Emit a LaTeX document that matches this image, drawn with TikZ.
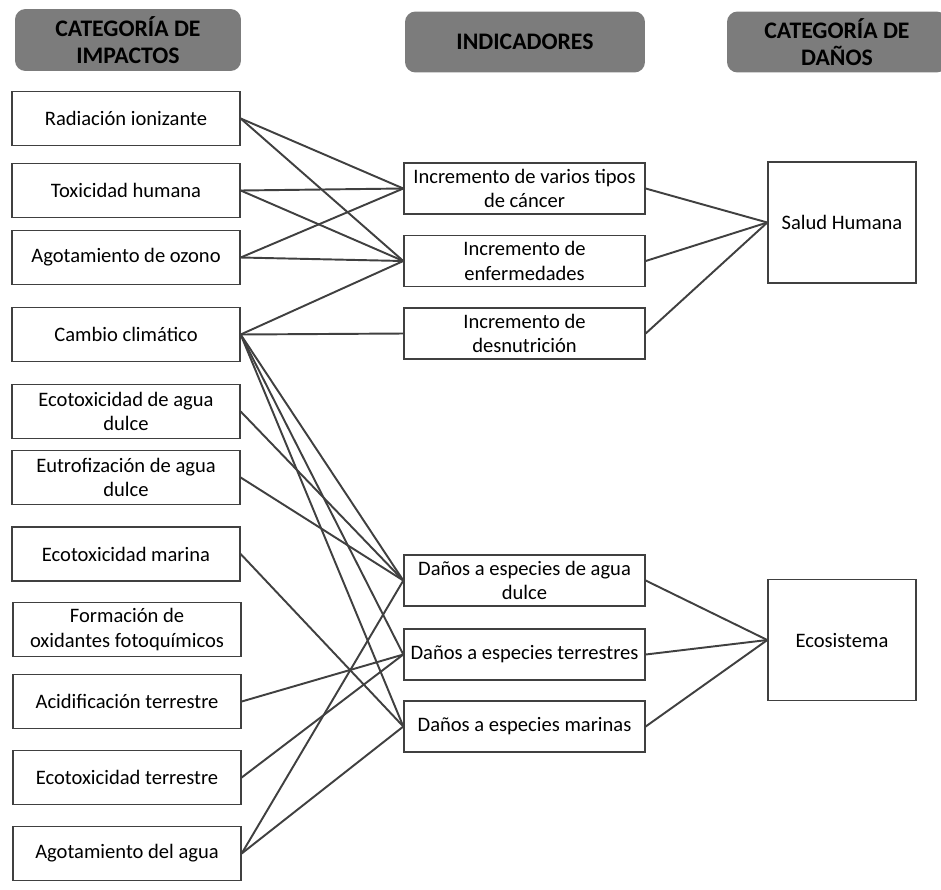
\documentclass[tikz,border=0pt]{standalone}
\usepackage{fontspec}
\setmainfont{Carlito}
\definecolor{linea}{RGB}{64,64,64}
\definecolor{cabecera}{RGB}{124,124,124}
\tikzset{
  caja/.style={draw=linea, line width=0.8pt, fill=white, align=center, inner sep=1pt,
    font=\fontsize{11.7}{13.8}\selectfont},
  impacto/.style={caja, minimum width=4.56cm, minimum height=1.08cm},
  indicador/.style={caja, minimum width=4.82cm, minimum height=1.02cm},
  dano/.style={caja, minimum width=2.96cm, minimum height=2.42cm},
  titulo/.style={fill=cabecera, rounded corners=6pt, align=center,
    font=\bfseries\fontsize{13.5}{15.5}\selectfont, minimum height=1.22cm},
  conector/.style={draw=linea, line width=1.1pt},
}
\begin{document}
\begin{tikzpicture}[x=0.02cm, y=-0.02cm]
\useasboundingbox (0,0) rectangle (941,890);
% cabeceras
\node[titulo, minimum width=4.52cm, minimum height=1.24cm] (t1) at (128,40) {CATEGORÍA DE\\IMPACTOS};
\node[titulo, minimum width=4.8cm] (t2) at (525,42) {INDICADORES};
\node[titulo, minimum width=4.4cm] (t3) at (837,42) {CATEGORÍA DE\\DAÑOS};
% categorias de impacto
\node[impacto] (rad) at (126,118.5) {Radiación ionizante};
\node[impacto] (tox) at (126,190.5) {Toxicidad humana};
\node[impacto] (ozo) at (126,257.5) {Agotamiento de ozono};
\node[impacto] (cli) at (126,334.5) {Cambio climático};
\node[impacto] (ecd) at (126,411.5) {Ecotoxicidad de agua\\dulce};
\node[impacto] (eut) at (126,477.5) {Eutrofización de agua\\dulce};
\node[impacto] (ecm) at (126,554) {Ecotoxicidad marina};
\node[impacto] (fot) at (127,629.5) {Formación de\\oxidantes fotoquímicos};
\node[impacto] (aci) at (127,701.5) {Acidificación terrestre};
\node[impacto] (ect) at (127,777.5) {Ecotoxicidad terrestre};
\node[impacto] (agu) at (127,853.5) {Agotamiento del agua};
% indicadores
\node[indicador] (can) at (524.5,188.5) {Incremento de varios tipos\\de cáncer};
\node[indicador] (enf) at (524.5,261) {Incremento de\\enfermedades};
\node[indicador] (des) at (524.5,333.5) {Incremento de\\desnutrición};
\node[indicador] (edu) at (524.5,580.5) {Daños a especies de agua\\dulce};
\node[indicador] (ete) at (524.5,654.5) {Daños a especies terrestres};
\node[indicador] (ema) at (524.5,726.5) {Daños a especies marinas};
% categorias de danos
\node[dano] (sal) at (842,222.5) {Salud Humana};
\node[dano] (eco) at (842,640) {Ecosistema};
% conexiones
\foreach \a/\b in {rad/can, rad/enf, tox/can, tox/enf, ozo/can, ozo/enf,
  cli/enf, cli/des, cli/edu, cli/ete, cli/ema, ecd/edu, eut/edu, ecm/ema,
  aci/ete, ect/ete, agu/edu, agu/ema}
  \draw[conector] (\a.east) -- (\b.west);
\foreach \a/\b in {can/sal, enf/sal, des/sal, edu/eco, ete/eco, ema/eco}
  \draw[conector] (\a.east) -- (\b.west);
\end{tikzpicture}
\end{document}
